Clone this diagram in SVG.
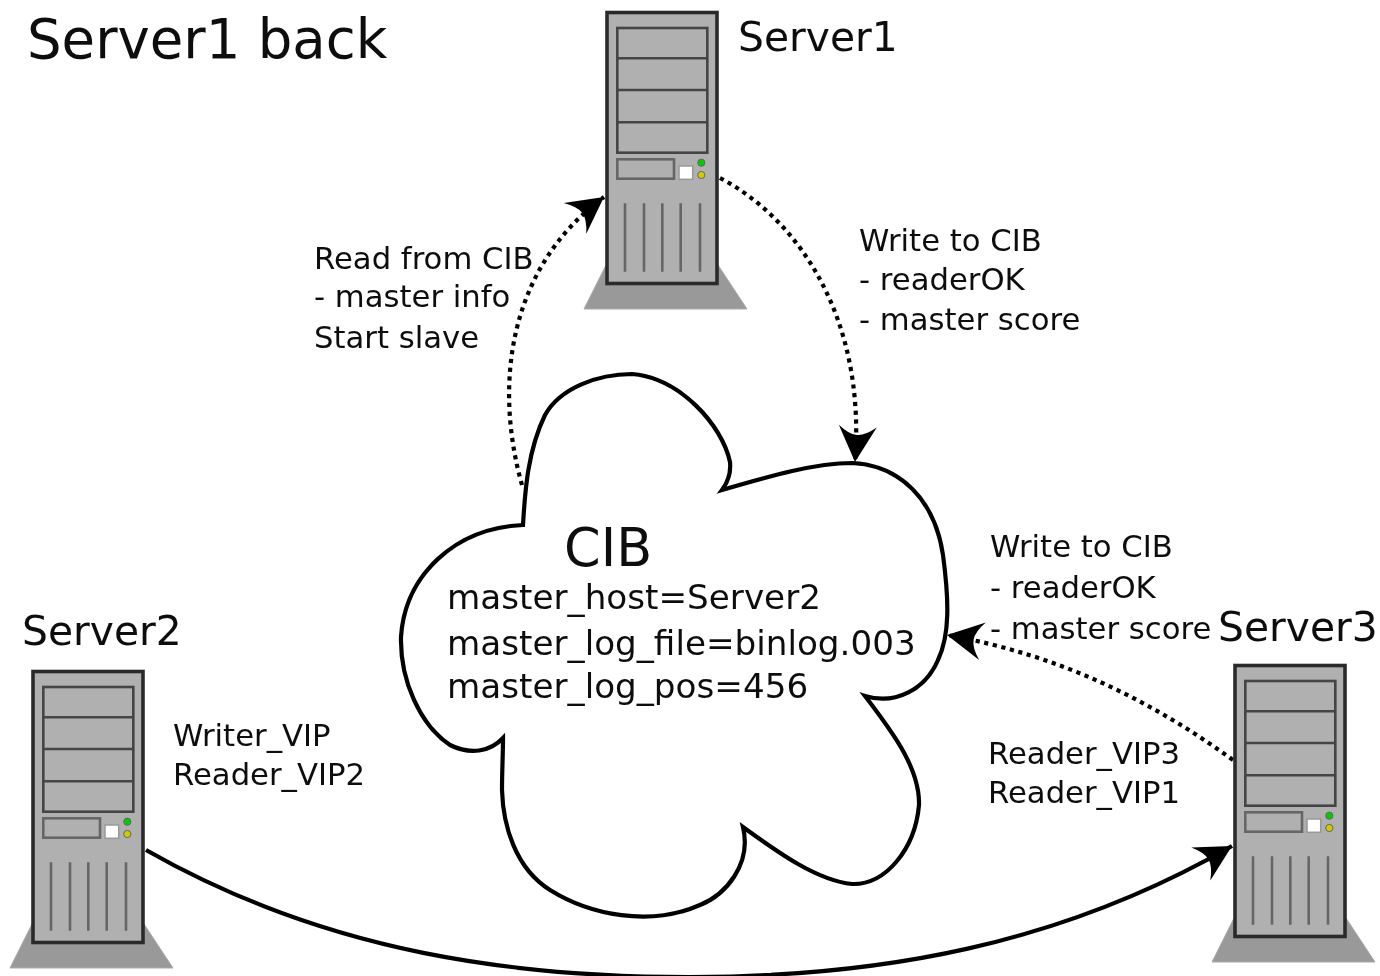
<svg xmlns="http://www.w3.org/2000/svg" width="1380" height="976" viewBox="0 0 1380 976">
<style>
text{font-family:"DejaVu Sans",sans-serif;fill:#111}
.t{font-size:54.5px}.s{font-size:40.8px}.l{font-size:30.7px}.m{font-size:34.2px}.c{font-size:52.5px}
.cloud{fill:#fff;stroke:#000;stroke-width:4.2;stroke-linejoin:miter}
.dot{fill:none;stroke:#000;stroke-width:4.2;stroke-dasharray:4.2 4.6}
.solid{fill:none;stroke:#000;stroke-width:4.2}
.p{fill:none;stroke:#444;stroke-width:2.6}
.v{stroke:#666;stroke-width:2.6}
</style>
<defs>
<filter id="soft" x="0" y="0" width="1380" height="976" filterUnits="userSpaceOnUse"><feGaussianBlur stdDeviation="0.7"/></filter>
<marker id="a" markerUnits="userSpaceOnUse" markerWidth="44" markerHeight="44" refX="38" refY="22" orient="auto" viewBox="0 0 44 44">
<path d="M38 22 L2 3 Q11 14 11 22 Q11 30 2 41 Z" fill="#000"/>
</marker>
<g id="srv">
<path d="M0 254 L-22 298 H141 L112 254 Z" fill="#999" stroke="#aaa" stroke-width="1"/>
<rect x="1" y="1.5" width="110" height="271" fill="#b0b0b0" stroke="#2b2b2b" stroke-width="3.6"/>
<rect class="p" x="11.3" y="17" width="90" height="124.7"/>
<path class="p" d="M11.3 47.3H101.3M11.3 79H101.3M11.3 111.3H101.3"/>
<rect class="p" x="11.3" y="148.3" width="56.7" height="19.4" style="stroke:#666"/>
<rect x="73" y="155" width="13.7" height="13.3" fill="#fff" stroke="#999" stroke-width="1.5"/>
<circle cx="95.3" cy="151.7" r="3.6" fill="#0c0" stroke="#666"/>
<circle cx="95.3" cy="164" r="3.6" fill="#cc0" stroke="#666"/>
<path class="v" d="M19 192.3V260.7M38 192.3V260.7M56.3 192.3V260.7M74.7 192.3V260.7M94 192.3V260.7"/>
</g>
</defs>
<rect width="1380" height="976" fill="#fff"/>
<g filter="url(#soft)">
<text class="t" x="27" y="58">Server1 back</text>
<g id="connectors">
<path class="dot" d="M720 178C800 220 866 320 855 462" marker-end="url(#a)"/>
<path class="dot" d="M522 485C495 390 505 270 604 197" marker-end="url(#a)"/>
<path class="dot" d="M1233 760C1150 700 1060 655 947 635" marker-end="url(#a)"/>
<path class="solid" d="M146 850C330 955 520 977 690 977C880 977 1060 945 1232 846" marker-end="url(#a)"/>
</g>
<g id="server1"><use href="#srv" x="606" y="11"/><text class="s" x="738" y="51">Server1</text></g>
<g id="server2"><use href="#srv" x="32" y="670"/><text class="s" x="22" y="645">Server2</text></g>
<g id="server3"><use href="#srv" x="1234" y="664"/><text class="s" x="1218" y="641">Server3</text></g>
<g id="cib">
<path class="cloud" d="M523 525C525 490 528 450 545 415C560 388 598 374 632 374C680 378 722 425 730 462C731 472 728 482 722 490C770 476 815 463 852 463C900 465 935 500 943 555C949 600 950 635 938 660C925 690 895 705 865 696C895 735 920 770 919 805C915 850 885 885 852 884C815 880 775 850 743 827C752 865 725 895 700 905C650 927 590 915 550 890C515 868 503 825 502 790C502 770 503 755 503 738C490 752 470 755 450 745C420 725 400 680 401 637C405 575 455 528 523 525Z"/>
<text class="c" x="564" y="566">CIB</text>
<text class="m" x="447" y="609">master_host=Server2</text>
<text class="m" x="447" y="655">master_log_file=binlog.003</text>
<text class="m" x="447" y="698">master_log_pos=456</text>
</g>
<g id="labels">
<text class="l"><tspan x="314" y="269">Read from CIB</tspan><tspan x="314" y="307">- master info</tspan><tspan x="314" y="348">Start slave</tspan></text>
<text class="l"><tspan x="859" y="251">Write to CIB</tspan><tspan x="859" y="290">- readerOK</tspan><tspan x="859" y="330">- master score</tspan></text>
<text class="l"><tspan x="990" y="557">Write to CIB</tspan><tspan x="990" y="598">- readerOK</tspan><tspan x="990" y="639">- master score</tspan></text>
<text class="l"><tspan x="173" y="746">Writer_VIP</tspan><tspan x="173" y="785">Reader_VIP2</tspan></text>
<text class="l"><tspan x="988" y="764">Reader_VIP3</tspan><tspan x="988" y="803">Reader_VIP1</tspan></text>
</g>
</g>
</svg>
